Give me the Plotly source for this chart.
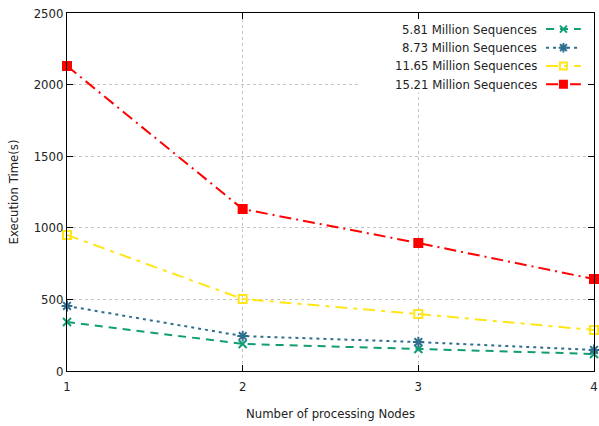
import plotly.graph_objects as go

nodes = [1, 2, 3, 4]
series_names = ["5.81 Million Sequences", "8.73 Million Sequences",
                "11.65 Million Sequences", "15.21 Million Sequences"]
t_581 = [342, 189, 154, 119]
t_873 = [454, 244, 202, 147]
t_1165 = [950, 503, 398, 286]
t_1521 = [2130, 1131, 894, 642]
y_ticks = [0, 500, 1000, 1500, 2000, 2500]

values = [t_581, t_873, t_1165, t_1521]
colors = ["#119e74", "#2f6f8e", "#ffe619", "#ff0000"]
dashes = ["8px,6px", "3px,4px", "12px,6px,4px,6px", "12px,5px,2px,5px"]
symbols = ["x-thin-open", "asterisk-open", "square-open", "square"]
msizes = [8, 9, 8, 8]

FONT = "DejaVu Sans Condensed, Liberation Sans Narrow, Arial"

fig = go.Figure()

# legend background (drawn over grid, like gnuplot's opaque key)
fig.add_trace(go.Scatter(
    x=[0.555, 0.997, 0.997, 0.555, 0.555], y=[0.778, 0.778, 0.997, 0.997, 0.778],
    xaxis="x2", yaxis="y2", mode="lines", fill="toself", fillcolor="white",
    line=dict(width=0, color="white"), showlegend=False, hoverinfo="skip"))

for name, v, c, d, s, ms in zip(series_names, values, colors, dashes, symbols, msizes):
    fig.add_trace(go.Scatter(
        x=nodes, y=v, mode="lines+markers", name=name, showlegend=False,
        line=dict(color=c, width=2, dash=d),
        marker=dict(symbol=s, size=ms, color=c, line=dict(color=c, width=2)),
        cliponaxis=False,
    ))

# manual legend (text on left, sample on right, gnuplot-style)
leg_rows = [0.955, 0.903, 0.852, 0.801]
x_line0, x_line1, x_mark = 0.909, 0.975, 0.942
for name, c, d, s, ms, yr in zip(series_names, colors, dashes, symbols, msizes, leg_rows):
    fig.add_trace(go.Scatter(
        x=[x_line0, x_line1], y=[yr, yr], xaxis="x2", yaxis="y2", mode="lines",
        line=dict(color=c, width=2, dash=d), showlegend=False, hoverinfo="skip"))
    fig.add_trace(go.Scatter(
        x=[x_mark], y=[yr], xaxis="x2", yaxis="y2", mode="markers",
        marker=dict(symbol=s, size=ms - 1, color=c, line=dict(color=c, width=2)),
        showlegend=False, hoverinfo="skip"))
    fig.add_annotation(x=0.895, y=yr, xref="x2", yref="y2", text=name,
                       showarrow=False, xanchor="right", yanchor="middle",
                       font=dict(family=FONT, size=13, color="#222"))

axis_common = dict(showline=True, linecolor="black", linewidth=1, mirror="allticks",
                   ticks="inside", ticklen=6, tickcolor="black",
                   showgrid=True, gridcolor="#c4c4c4", griddash="dot", gridwidth=1,
                   zeroline=False, ticklabeloverflow="allow", automargin=False,
                   tickfont=dict(family=FONT, size=13, color="#222"))

fig.update_layout(
    width=599, height=426,
    margin=dict(l=67, r=5, t=13, b=55),
    plot_bgcolor="white", paper_bgcolor="white",
    showlegend=False,
    xaxis=dict(range=[1, 4], tickvals=nodes, ticktext=[str(n) for n in nodes],
               ticklabelstandoff=3,
               title=dict(text="Number of processing Nodes", standoff=16,
                          font=dict(family=FONT, size=13, color="#222")),
               **axis_common),
    yaxis=dict(range=[0, 2500], tickvals=y_ticks, ticktext=[str(t) for t in y_ticks],
               title=dict(text="Execution Time(s)", standoff=12,
                          font=dict(family=FONT, size=13, color="#222")),
               **axis_common),
    xaxis2=dict(overlaying="x", range=[0, 1], visible=False, fixedrange=True),
    yaxis2=dict(overlaying="y", range=[0, 1], visible=False, fixedrange=True),
)

fig.write_html("out.html")
